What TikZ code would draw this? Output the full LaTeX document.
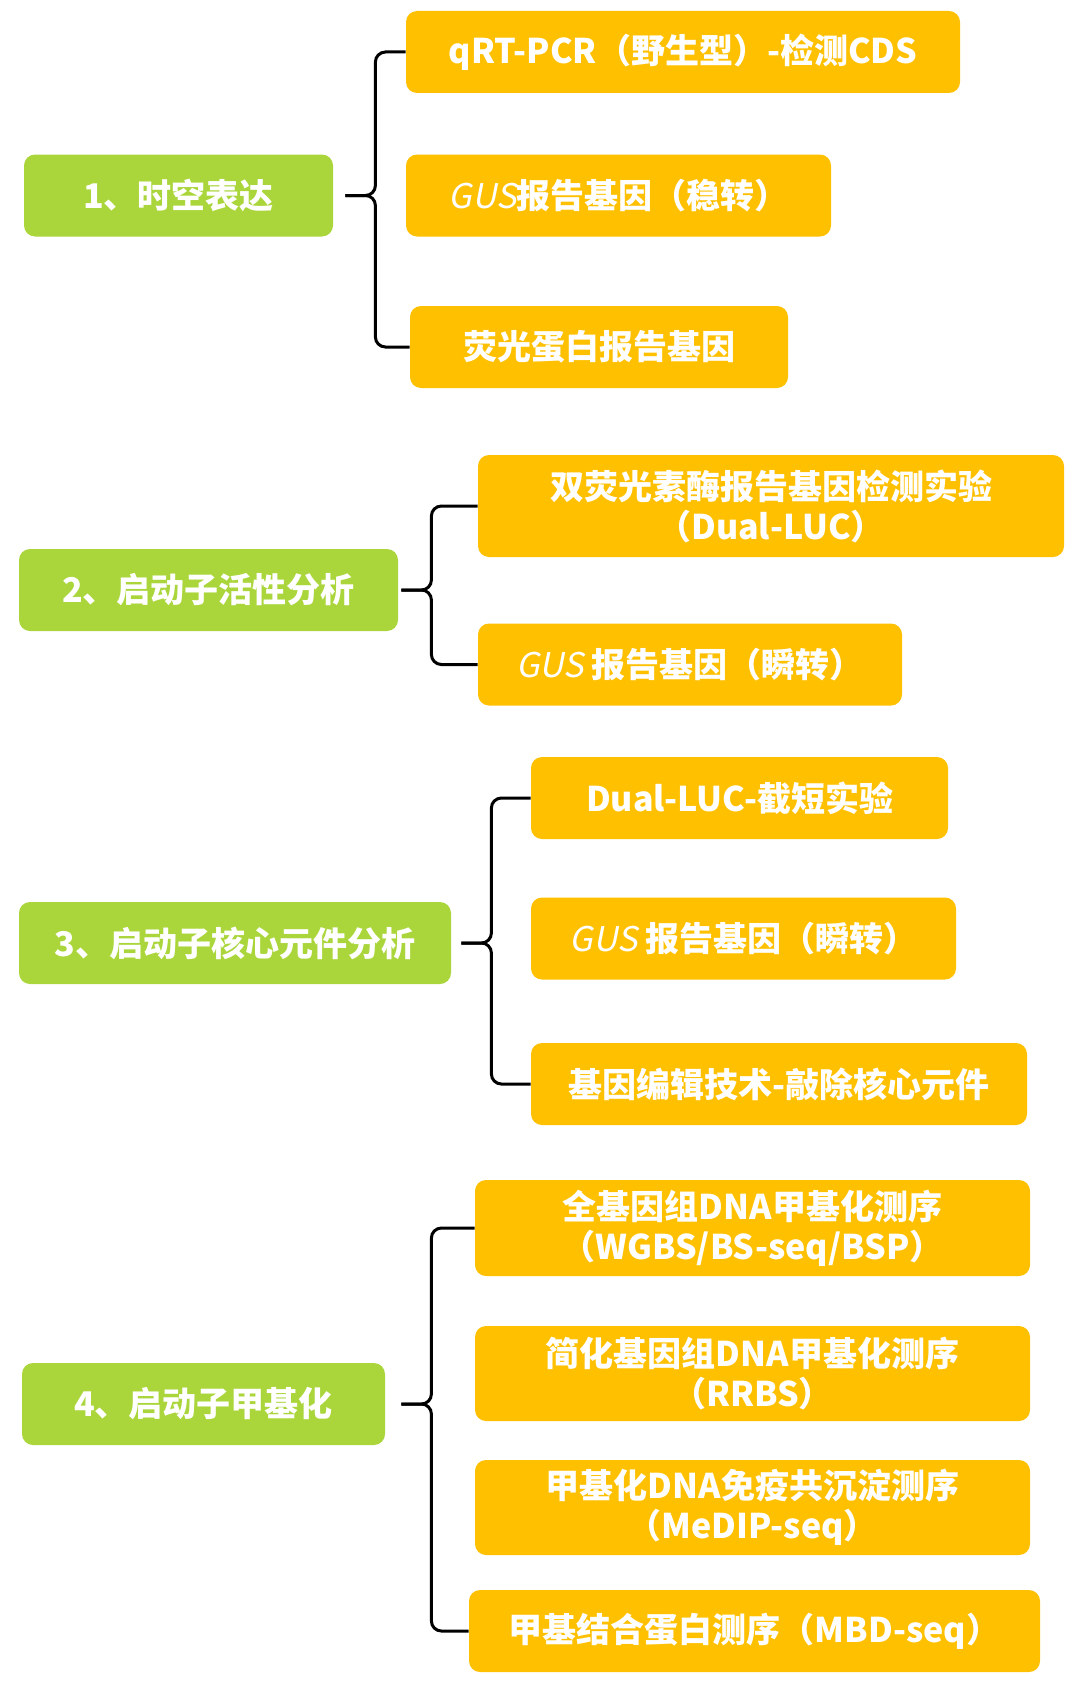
\documentclass[tikz,border=0pt]{standalone}
\usepackage{fontspec}
\setmainfont{Noto Sans CJK SC}
\newfontfamily\gusfont{Noto Sans CJK SC}[FakeSlant=0.2]
\definecolor{cgreen}{RGB}{170,214,60}
\definecolor{cgold}{RGB}{255,192,0}
\tikzset{
  px/.style={x=0.5pt,y=-0.5pt},
  grp/.style={fill=cgreen,text=white,rounded corners=5.5pt,align=center,inner sep=0pt,
    minimum height=41pt,font=\bfseries\fontsize{17}{20}\selectfont},
  itm/.style={grp,fill=cgold},
  brc/.style={draw=black,line width=1.5pt,rounded corners=5pt},
}

\begin{document}
\begin{tikzpicture}[px]
  \useasboundingbox (0,0) rectangle (1080,1691);
  % 1
  \node[grp,minimum width=154.5pt] (g1) at (178.5,195.5) {1、时空表达};
  \node[itm,minimum width=277pt] (o11) at (683,52) {qRT-PCR（野生型）-检测CDS};
  \node[itm,minimum width=212.5pt] (o12) at (618.5,195.5) {{\gusfont\mdseries GUS}报告基因（稳转）};
  \node[itm,minimum width=189pt] (o13) at (599,347) {荧光蛋白报告基因};
  % 2
  \node[grp,minimum width=189.5pt] (g2) at (208.5,590) {2、启动子活性分析};
  \node[itm,minimum width=293pt,minimum height=51pt] (o21) at (771,506)
    {双荧光素酶报告基因检测实验\\（Dual-LUC）};
  \node[itm,minimum width=212pt] (o22) at (690,664.5) {{\gusfont\mdseries GUS} 报告基因（瞬转）};
  % 3
  \node[grp,minimum width=216pt] (g3) at (235,943) {3、启动子核心元件分析};
  \node[itm,minimum width=208.5pt] (o31) at (739.5,798) {Dual-LUC-截短实验};
  \node[itm,minimum width=212.5pt] (o32) at (743.5,938.5) {{\gusfont\mdseries GUS} 报告基因（瞬转）};
  \node[itm,minimum width=248pt] (o33) at (779,1084) {基因编辑技术-敲除核心元件};
  % 4
  \node[grp,minimum width=181.5pt] (g4) at (203.5,1404) {4、启动子甲基化};
  \node[itm,minimum width=277.5pt,minimum height=48pt] (o41) at (752.5,1228)
    {全基因组DNA甲基化测序\\（WGBS/BS-seq/BSP）};
  \node[itm,minimum width=277.5pt,minimum height=47.5pt] (o42) at (752.5,1373.5)
    {简化基因组DNA甲基化测序\\（RRBS）};
  \node[itm,minimum width=277.5pt,minimum height=47.5pt] (o43) at (752.5,1507.5)
    {甲基化DNA免疫共沉淀测序\\（MeDIP-seq）};
  \node[itm,minimum width=285.5pt] (o44) at (754.5,1631) {甲基结合蛋白测序（MBD-seq）};
  % braces
  \coordinate (t1) at ([xshift=6pt]g1.east);
  \coordinate (t2) at ([xshift=1.5pt]g2.east);
  \coordinate (t3) at ([xshift=5pt]g3.east);
  \coordinate (t4) at ([xshift=8pt]g4.east);
  \foreach \t/\a/\b in {1/o11/o13,2/o21/o22,3/o31/o33,4/o41/o44} {
    \coordinate (v\t) at ([xshift=15pt]t\t);
    \draw[brc] (\a.west) -- (v\t |- \a.west) -- (v\t) -- (t\t);
    \draw[brc] (\b.west) -- (v\t |- \b.west) -- (v\t) -- (t\t);
  }
\end{tikzpicture}
\end{document}
